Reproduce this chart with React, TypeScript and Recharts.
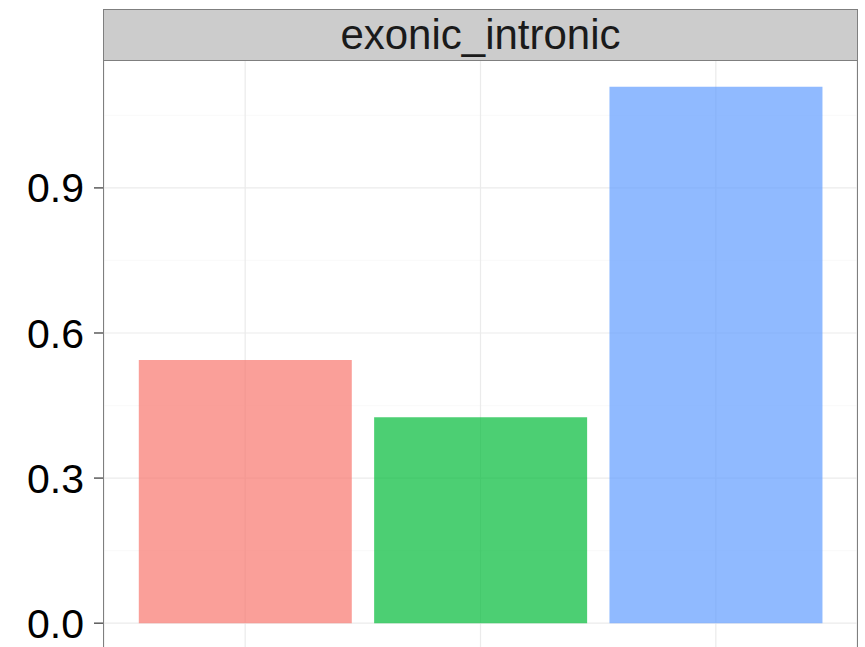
import React from 'react';
import { BarChart, Bar, XAxis, YAxis, CartesianGrid, Cell } from 'recharts';

const categories = ['A', 'B', 'C'];
const values = [0.544, 0.426, 1.109];
const colors = ['#F8766D', '#00BA38', '#619CFF'];
const yTicks = [0, 0.3, 0.6, 0.9];
const minorTicks = [0.15, 0.45, 0.75, 1.05];
const yDomain = [-0.0555, 1.1645];
const stripLabel = 'exonic_intronic';

const data = categories.map((c, i) => ({ name: c, value: values[i] }));

const FONT = '"Liberation Sans", Arial, Helvetica, sans-serif';

export default function App() {
  return (
    <div style={{ position: 'absolute', left: 0, top: 0, width: 865, height: 700, background: '#fff', fontFamily: FONT }}>
      <BarChart
        width={865}
        height={700}
        data={data}
        margin={{ top: 60, right: 8, bottom: 20, left: 0 }}
        barCategoryGap="4.8%"
      >
        <CartesianGrid
          horizontalValues={minorTicks}
          vertical={false}
          stroke="#FAFAFA"
          strokeWidth={1.2}
        />
        <CartesianGrid stroke="#EBEBEB" strokeWidth={1.2} />
        <XAxis
          dataKey="name"
          padding={{ left: 23.5, right: 23.5 }}
          tickFormatter={() => ''}
          axisLine={false}
          tickLine={{ stroke: '#333333' }}
          height={30}
        />
        <YAxis
          type="number"
          domain={yDomain}
          ticks={yTicks}
          allowDataOverflow
          width={104}
          axisLine={false}
          tickSize={10}
          tickMargin={10}
          tickLine={{ stroke: '#333333', strokeWidth: 1.2 }}
          tick={{ fill: '#000000', fontSize: 41, fontFamily: FONT }}
          tickFormatter={(v: number) => v.toFixed(1)}
        />
        <Bar dataKey="value" isAnimationActive={false} fillOpacity={0.7}>
          {data.map((d, i) => (
            <Cell key={d.name} fill={colors[i]} />
          ))}
        </Bar>
      </BarChart>
      <div
        style={{
          position: 'absolute',
          left: 103,
          top: 60,
          width: 753,
          height: 600,
          border: '1.2px solid #7F7F7F',
          pointerEvents: 'none',
        }}
      />
      <div
        style={{
          position: 'absolute',
          left: 103,
          top: 9,
          width: 753,
          height: 50,
          background: '#CCCCCC',
          border: '1.2px solid #7F7F7F',
          display: 'flex',
          alignItems: 'center',
          justifyContent: 'center',
          fontSize: 42,
          color: '#1A1A1A',
          fontFamily: FONT,
          lineHeight: 1,
        }}
      >
        {stripLabel}
      </div>
    </div>
  );
}
